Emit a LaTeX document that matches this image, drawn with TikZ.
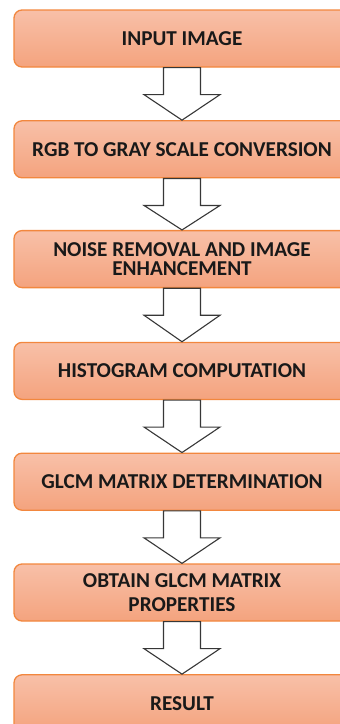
\documentclass[tikz,border=0pt]{standalone}
\usepackage{fontspec}
\setmainfont{Carlito}
\usetikzlibrary{calc}
\definecolor{boxtop}{RGB}{248,192,168}
\definecolor{boxbot}{RGB}{244,163,126}
\definecolor{boxline}{RGB}{242,135,62}
\definecolor{arrline}{RGB}{55,55,55}
\tikzset{
  stepbox/.style={rectangle, rounded corners=8pt, draw=boxline, line width=1.3pt,
    top color=boxtop, bottom color=boxbot, minimum width=336pt, minimum height=57pt,
    inner sep=0pt, align=center, text=black!90,
    font=\bfseries\fontsize{21.2}{23.5}\selectfont},
  fatarrow/.style={draw=arrline, fill=white, line width=1.1pt, line join=miter},
}
\newcommand{\fatarr}[2]{%
  \draw[fatarrow] ($(#1.south)+(-18.5,0)$) -- ++(0,-27) -- ++(-19.5,0) -- (#2.north)
    -- ($(#1.south)+(38,-27)$) -- ++(-19.5,0) -- ($(#1.south)+(18.5,0)$) -- cycle;}
\begin{document}
\begin{tikzpicture}[x=1pt,y=1pt]
\useasboundingbox (0,0) rectangle (340,-724);
\clip (0,0) rectangle (340,-724);
\node[stepbox] (b1) at (182,-38.5) {INPUT IMAGE};
\node[stepbox] (b2) at (182,-149.3) {RGB TO GRAY SCALE CONVERSION};
\node[stepbox, font=\bfseries\fontsize{21.2}{18.5}\selectfont] (b3) at (182,-259.1) {NOISE REMOVAL AND IMAGE\\ENHANCEMENT};
\node[stepbox] (b4) at (182,-370.9) {HISTOGRAM COMPUTATION};
\node[stepbox] (b5) at (182,-481.7) {GLCM MATRIX DETERMINATION};
\node[stepbox] (b6) at (182,-592.5) {OBTAIN GLCM MATRIX\\PROPERTIES};
\node[stepbox] (b7) at (182,-703.3) {RESULT};
\fatarr{b1}{b2}
\fatarr{b2}{b3}
\fatarr{b3}{b4}
\fatarr{b4}{b5}
\fatarr{b5}{b6}
\fatarr{b6}{b7}
\end{tikzpicture}
\end{document}
